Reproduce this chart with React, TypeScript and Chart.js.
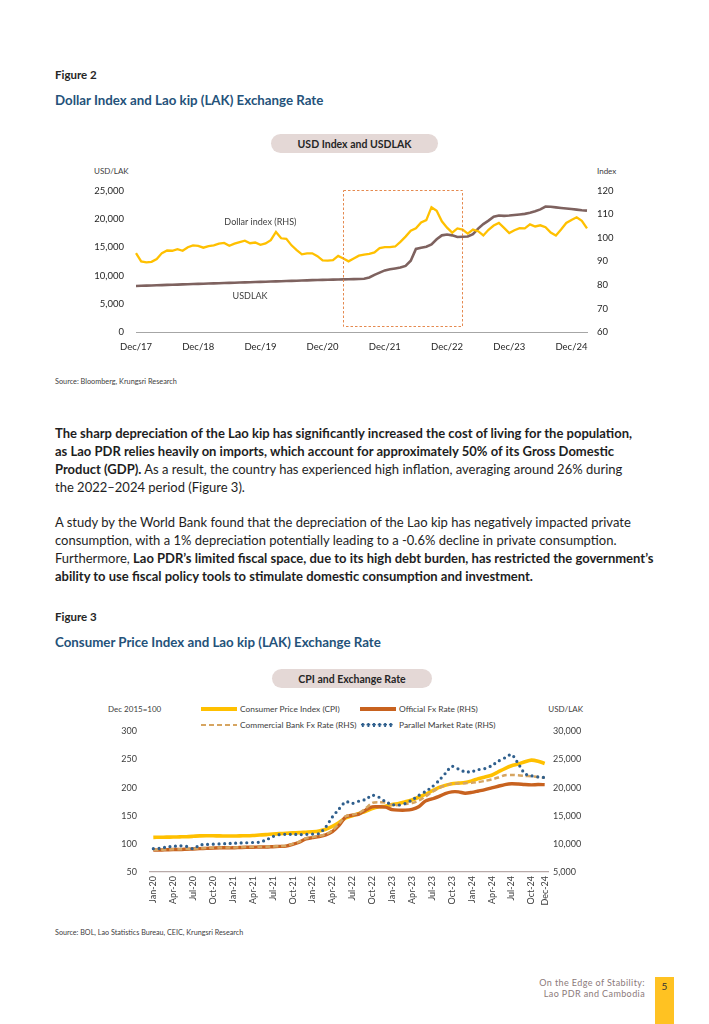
import React, { useEffect, useRef } from "react";
import { Chart, registerables } from "chart.js";

Chart.register(...registerables);

const FONT = "Lato, 'Open Sans', sans-serif";
const MON = ["Jan", "Feb", "Mar", "Apr", "May", "Jun", "Jul", "Aug", "Sep", "Oct", "Nov", "Dec"];

// ---------- Figure 2 data (monthly, Dec 2017 – Mar 2025) ----------
const fig2Months: string[] = [];
for (let i = 0; i < 88; i++) {
  const m = (11 + i) % 12;
  const y = 2017 + Math.floor((11 + i) / 12);
  fig2Months.push(`${MON[m]}/${String(y).slice(2)}`);
}
const dollarIndex = [
  93.5,
  90.0, 89.6, 89.8, 91.0, 93.5, 94.6, 94.5, 95.2, 94.5, 96.0, 96.8, 96.6,
  95.8, 96.5, 96.8, 97.5, 97.8, 96.6, 97.5, 98.2, 98.8, 97.7, 98.0, 97.0,
  97.6, 99.0, 102.5, 99.8, 99.6, 96.8, 94.8, 93.0, 93.4, 93.4, 92.2, 90.4,
  90.3, 90.5, 92.3, 91.2, 90.0, 91.2, 92.4, 92.9, 93.2, 93.8, 95.6, 96.0,
  96.0, 96.3, 98.3, 100.5, 103.0, 104.0, 106.5, 107.5, 113.0, 111.5, 107.0, 104.3,
  102.2, 104.0, 103.5, 101.8, 103.5, 102.8, 101.0, 103.4, 105.2, 106.3, 104.2, 102.0,
  103.2, 104.1, 104.0, 105.7, 104.8, 105.3, 104.5, 102.2, 101.0, 103.5, 106.3, 107.6,
  108.7, 107.2, 104.0,
];
const usdLak = [
  8150,
  8180, 8210, 8240, 8270, 8300, 8330, 8360, 8390, 8420, 8450, 8480, 8510,
  8540, 8570, 8600, 8630, 8660, 8690, 8720, 8750, 8780, 8810, 8840, 8870,
  8900, 8930, 8960, 8990, 9020, 9050, 9080, 9110, 9140, 9170, 9200, 9230,
  9250, 9270, 9290, 9310, 9330, 9350, 9370, 9420, 9650, 10100, 10500, 10900,
  11100, 11250, 11400, 11700, 12600, 14700, 14900, 15100, 15500, 16400, 17100, 17250,
  17100, 16800, 16850, 16900, 17300, 18300, 19100, 19700, 20400, 20600, 20550, 20600,
  20700, 20800, 20900, 21100, 21350, 21700, 22200, 22150, 22050, 21950, 21850, 21750,
  21650, 21550, 21480,
];
const fig2LeftTicks = [0, 25000, 5000];
const fig2RightTicks = [60, 120, 10];
const fig2Box = { from: "Apr/21", to: "Mar/23", top: 25200, bottom: 1200 };
const fig2Labels = [
  { text: "Dollar index (RHS)", at: "Dec/19", value: 106.5, axis: "y1" },
  { text: "USDLAK", at: "Oct/19", value: 6300, axis: "y" },
];

// ---------- Figure 3 data (monthly, Jan 2020 – Dec 2024) ----------
const fig3Months: string[] = [];
for (let i = 0; i < 60; i++) {
  fig3Months.push(`${MON[i % 12]}-${20 + Math.floor(i / 12)}`);
}
const cpi = [
  111.5, 111.8, 112.0, 112.2, 112.5, 112.8, 113.5, 114.3, 114.5, 114.4, 114.2, 114.0,
  114.0, 114.2, 114.5, 115.0, 115.8, 116.5, 117.5, 118.3, 118.8, 119.5, 120.0, 120.8,
  121.5, 123.0, 126.0, 131.0, 138.0, 146.0, 150.0, 154.0, 158.0, 163.0, 166.0, 167.0,
  170.0, 172.0, 175.0, 178.0, 183.0, 188.0, 194.0, 200.0, 204.0, 207.0, 208.0, 209.0,
  212.0, 216.0, 219.0, 222.0, 228.0, 234.0, 239.0, 242.0, 246.0, 249.0, 247.0, 243.0,
];
const officialFx = [
  8900, 8900, 8950, 9000, 9000, 9050, 9100, 9150, 9200, 9250, 9300, 9300,
  9300, 9350, 9400, 9400, 9450, 9450, 9500, 9550, 9600, 9900, 10300, 10900,
  11100, 11300, 11600, 12200, 13300, 14800, 15100, 15300, 16000, 16580, 16600, 16550,
  16100, 16000, 16000, 16150, 16600, 17600, 18000, 18400, 18950, 19250, 19250, 19000,
  19150, 19400, 19650, 19950, 20250, 20550, 20700, 20650, 20550, 20500, 20550, 20530,
];
const commercialFx = [
  8950, 8950, 9000, 9050, 9050, 9100, 9150, 9200, 9250, 9300, 9350, 9350,
  9350, 9400, 9450, 9450, 9500, 9500, 9550, 9600, 9650, 10000, 10400, 11000,
  11200, 11400, 11700, 12400, 13600, 14900, 15200, 15500, 16300, 17300, 17400, 17350,
  16900, 16900, 17100, 17250, 17700, 18400, 19200, 19900, 20400, 20700, 20750, 20800,
  20850, 21000, 21200, 21450, 21800, 22200, 22250, 22200, 22100, 22000, 21900, 21750,
];
const parallelFx = [
  9150, 9200, 9450, 9550, 9650, 9550, 9150, 9800, 9900, 9950, 10000, 10050,
  10100, 10150, 10200, 10250, 10300, 10700, 11300, 11650, 11700, 11700, 11650, 11700,
  11750, 11850, 13000, 14800, 16200, 17500, 17200, 17600, 17900, 18650, 18300, 17500,
  17000, 16900, 17200, 17800, 18600, 19300, 20100, 21200, 22500, 23800, 23300, 22800,
  22850, 23200, 23400, 23900, 24700, 25300, 25900, 24300, 22500, 22100, 21900, 21800,
];
const fig3LeftTicks = [50, 300, 50];
const fig3RightTicks = [5000, 30000, 5000];

const fmt = (v: number) => Number(v).toLocaleString("en-US");

function Fig2Chart() {
  const ref = useRef<HTMLCanvasElement>(null);
  useEffect(() => {
    const extras = {
      id: "fig2extras",
      afterDatasetsDraw(chart: any) {
        const { ctx, scales } = chart;
        const x = scales.x, y = scales.y;
        const x0 = x.getPixelForValue(fig2Months.indexOf(fig2Box.from));
        const x1 = x.getPixelForValue(fig2Months.indexOf(fig2Box.to));
        const y0 = y.getPixelForValue(fig2Box.top);
        const y1 = y.getPixelForValue(fig2Box.bottom);
        ctx.save();
        ctx.strokeStyle = "#E58A50";
        ctx.lineWidth = 1;
        ctx.setLineDash([2.5, 2]);
        ctx.strokeRect(Math.round(x0) + 0.5, Math.round(y0) + 0.5, Math.round(x1 - x0), Math.round(y1 - y0));
        ctx.setLineDash([]);
        ctx.fillStyle = "#404040";
        ctx.font = `9px ${FONT}`;
        ctx.textAlign = "center";
        ctx.textBaseline = "middle";
        for (const l of fig2Labels) {
          const px = x.getPixelForValue(fig2Months.indexOf(l.at));
          const py = scales[l.axis].getPixelForValue(l.value);
          ctx.fillText(l.text, px, py);
        }
        ctx.restore();
      },
    };
    const chart = new Chart(ref.current!, {
      type: "line",
      data: {
        labels: fig2Months,
        datasets: [
          {
            label: "Dollar index (RHS)",
            data: dollarIndex,
            yAxisID: "y1",
            borderColor: "#FFC000",
            borderWidth: 2.3,
            pointRadius: 0,
            tension: 0,
            order: 1,
          },
          {
            label: "USDLAK",
            data: usdLak,
            yAxisID: "y",
            borderColor: "#7E625F",
            borderWidth: 2.6,
            pointRadius: 0,
            tension: 0,
            order: 2,
          },
        ],
      },
      options: {
        animation: false,
        responsive: false,
        devicePixelRatio: 1,
        layout: { padding: { top: 10, left: 0, right: 0, bottom: 0 } },
        plugins: { legend: { display: false }, tooltip: { enabled: false } },
        scales: {
          x: {
            offset: false,
            grid: { display: false, drawTicks: false },
            border: { display: true, color: "#A6A6A6", width: 1 },
            ticks: {
              autoSkip: false,
              maxRotation: 0,
              minRotation: 0,
              padding: 9,
              color: "#262626",
              font: { family: FONT, size: 9.5 },
              callback: (_v: any, i: number) => (fig2Months[i].startsWith("Dec") ? fig2Months[i] : ""),
            },
            afterFit: (s: any) => { s.height = 28; },
          },
          y: {
            position: "left",
            min: fig2LeftTicks[0],
            max: fig2LeftTicks[1],
            grid: { display: false, drawTicks: false },
            border: { display: false },
            ticks: { stepSize: fig2LeftTicks[2], padding: 12, color: "#262626", font: { family: FONT, size: 9.5 }, callback: (v: any) => fmt(v) },
            afterFit: (s: any) => { s.width = 51; },
          },
          y1: {
            position: "right",
            min: fig2RightTicks[0],
            max: fig2RightTicks[1],
            grid: { display: false, drawTicks: false },
            border: { display: false },
            ticks: { stepSize: fig2RightTicks[2], padding: 10, color: "#262626", font: { family: FONT, size: 9.5 } },
            afterFit: (s: any) => { s.width = 38; },
          },
        },
      },
      plugins: [extras],
    } as any);
    return () => chart.destroy();
  }, []);
  return (
    <canvas
      ref={ref}
      width={540}
      height={187}
      style={{ position: "absolute", left: 85, top: 173, width: 540, height: 187 }}
    />
  );
}

function Fig3Chart() {
  const ref = useRef<HTMLCanvasElement>(null);
  useEffect(() => {
    const chart = new Chart(ref.current!, {
      type: "line",
      data: {
        labels: fig3Months,
        datasets: [
          {
            label: "Parallel Market Rate (RHS)",
            data: parallelFx,
            yAxisID: "y1",
            borderColor: "#2F5F8D",
            borderWidth: 3.2,
            borderDash: [0, 5.6],
            borderCapStyle: "round",
            pointRadius: 0,
            tension: 0.25,
            order: 1,
          },
          {
            label: "Commercial Bank Fx Rate (RHS)",
            data: commercialFx,
            yAxisID: "y1",
            borderColor: "#D6A561",
            borderWidth: 2.5,
            borderDash: [5, 3],
            pointRadius: 0,
            tension: 0.25,
            order: 2,
          },
          {
            label: "Official Fx Rate (RHS)",
            data: officialFx,
            yAxisID: "y1",
            borderColor: "#C8621F",
            borderWidth: 3.4,
            pointRadius: 0,
            tension: 0.25,
            order: 3,
          },
          {
            label: "Consumer Price Index (CPI)",
            data: cpi,
            yAxisID: "y",
            borderColor: "#FFC000",
            borderWidth: 3.6,
            pointRadius: 0,
            tension: 0.25,
            order: 4,
          },
        ],
      },
      options: {
        animation: false,
        responsive: false,
        devicePixelRatio: 1,
        layout: { padding: { top: 9, left: 0, right: 0, bottom: 0 } },
        plugins: { legend: { display: false }, tooltip: { enabled: false } },
        scales: {
          x: {
            offset: true,
            grid: { display: false, drawTicks: false },
            border: { display: true, color: "#B7A9A8", width: 1.2 },
            ticks: {
              autoSkip: false,
              maxRotation: 90,
              minRotation: 90,
              padding: 4,
              color: "#404040",
              font: { family: FONT, size: 9 },
              callback: (_v: any, i: number) =>
                i % 3 === 0 || i === fig3Months.length - 1 ? fig3Months[i] : "",
            },
            afterFit: (s: any) => { s.height = 50; },
          },
          y: {
            position: "left",
            min: fig3LeftTicks[0],
            max: fig3LeftTicks[1],
            grid: { display: false, drawTicks: false },
            border: { display: false },
            ticks: { stepSize: fig3LeftTicks[2], padding: 13, color: "#404040", font: { family: FONT, size: 9 } },
            afterFit: (s: any) => { s.width = 65; },
          },
          y1: {
            position: "right",
            min: fig3RightTicks[0],
            max: fig3RightTicks[1],
            grid: { display: false, drawTicks: false },
            border: { display: false },
            ticks: { stepSize: fig3RightTicks[2], padding: 5, color: "#404040", font: { family: FONT, size: 9 }, callback: (v: any) => fmt(v) },
            afterFit: (s: any) => { s.width = 77; },
          },
        },
      },
    } as any);
    return () => chart.destroy();
  }, []);
  return (
    <canvas
      ref={ref}
      width={540}
      height={209}
      style={{ position: "absolute", left: 85, top: 713, width: 540, height: 209 }}
    />
  );
}

type TP = {
  x: number; y: number; size: number; bold?: boolean; color?: string;
  align?: "left" | "right" | "center"; ls?: number; children: React.ReactNode; font?: string;
};
function Txt({ x, y, size, bold, color = "#262626", align = "left", ls = 0, children, font = FONT }: TP) {
  const lh = size * 1.3;
  const style: React.CSSProperties = {
    position: "absolute",
    top: y - lh / 2,
    lineHeight: `${lh}px`,
    fontSize: size,
    fontFamily: font,
    fontWeight: bold ? 700 : 400,
    color,
    whiteSpace: "nowrap",
    letterSpacing: ls,
  };
  if (align === "left") style.left = x;
  else if (align === "right") style.right = 709 - x;
  else { style.left = x; style.transform = "translateX(-50%)"; }
  return <div style={style}>{children}</div>;
}

function Pill({ x, y, w, h, text }: { x: number; y: number; w: number; h: number; text: string }) {
  return (
    <div
      style={{
        position: "absolute", left: x, top: y, width: w, height: h, borderRadius: h / 2,
        background: "#E4D8D6", display: "flex", alignItems: "center", justifyContent: "center",
        fontFamily: FONT, fontWeight: 700, fontSize: 10.5, color: "#262626",
      }}
    >
      {text}
    </div>
  );
}

function LegendLine({ x, y, w, kind, color }: { x: number; y: number; w: number; kind: string; color: string }) {
  const base: React.CSSProperties = { position: "absolute", left: x, width: w };
  if (kind === "solid") return <div style={{ ...base, top: y - 1.75, height: 3.5, background: color }} />;
  if (kind === "dash")
    return (
      <div style={{ ...base, top: y - 1.25, height: 2.5, background: `repeating-linear-gradient(to right, ${color} 0 5px, transparent 5px 8px)` }} />
    );
  return (
    <div
      style={{
        ...base, top: y - 1.6, height: 3.2,
        background: `radial-gradient(circle, ${color} 1.5px, transparent 1.7px)`,
        backgroundSize: "5.6px 3.2px",
      }}
    />
  );
}

const BODY = 13;
const BLS = 0;

export default function App() {
  useEffect(() => {
    document.body.style.margin = "0";
  }, []);
  const P = ({ y, children }: { y: number; children: React.ReactNode }) => (
    <Txt x={55} y={y} size={BODY} ls={BLS} color="#1E1E1E">{children}</Txt>
  );
  return (
    <div style={{ position: "absolute", left: 0, top: 0, width: 709, height: 1024, background: "#fff", overflow: "hidden" }}>
      <Txt x={55} y={75} size={11.5} bold>Figure 2</Txt>
      <Txt x={55} y={101} size={13.3} bold color="#24527A">Dollar Index and Lao kip (LAK) Exchange Rate</Txt>

      <Pill x={271} y={134} w={167} h={19} text="USD Index and USDLAK" />
      <Txt x={94} y={171} size={8} color="#404040">USD/LAK</Txt>
      <Txt x={597} y={171} size={8} color="#404040">Index</Txt>
      <Fig2Chart />

      <Txt x={55} y={382} size={7.3} color="#404040">Source: Bloomberg, Krungsri Research</Txt>

      <P y={433}><b>The sharp depreciation of the Lao kip has significantly increased the cost of living for the population,</b></P>
      <P y={451}><b>as Lao PDR relies heavily on imports, which account for approximately 50% of its Gross Domestic</b></P>
      <P y={469}><b>Product (GDP).</b> As a result, the country has experienced high inflation, averaging around 26% during</P>
      <P y={487}>the 2022–2024 period (Figure 3).</P>

      <P y={522}>A study by the World Bank found that the depreciation of the Lao kip has negatively impacted private</P>
      <P y={540}>consumption, with a 1% depreciation potentially leading to a -0.6% decline in private consumption.</P>
      <P y={558}>Furthermore, <b>Lao PDR’s limited fiscal space, due to its high debt burden, has restricted the government’s</b></P>
      <P y={576}><b>ability to use fiscal policy tools to stimulate domestic consumption and investment.</b></P>

      <Txt x={55} y={617} size={11.5} bold>Figure 3</Txt>
      <Txt x={55} y={643} size={13.3} bold color="#24527A">Consumer Price Index and Lao kip (LAK) Exchange Rate</Txt>

      <Pill x={272} y={669} w={160} h={19} text="CPI and Exchange Rate" />
      <Txt x={108} y={709} size={8} color="#404040">Dec 2015=100</Txt>
      <Txt x={583} y={709} size={8} color="#404040" align="right">USD/LAK</Txt>

      <LegendLine x={201} y={709} w={36} kind="solid" color="#FFC000" />
      <Txt x={240} y={709} size={8.4} color="#404040">Consumer Price Index (CPI)</Txt>
      <LegendLine x={360} y={709} w={36} kind="solid" color="#C8621F" />
      <Txt x={399} y={709} size={8.4} color="#404040">Official Fx Rate (RHS)</Txt>
      <LegendLine x={201} y={725} w={36} kind="dash" color="#D6A561" />
      <Txt x={240} y={725} size={8.4} color="#404040">Commercial Bank Fx Rate (RHS)</Txt>
      <LegendLine x={360} y={725} w={34} kind="dot" color="#2F5F8D" />
      <Txt x={399} y={725} size={8.4} color="#404040">Parallel Market Rate (RHS)</Txt>
      <Fig3Chart />

      <Txt x={55} y={933} size={7.2} color="#404040">Source: BOL, Lao Statistics Bureau, CEIC, Krungsri Research</Txt>

      <Txt x={645} y={983} size={9} color="#8C7A7A" align="right" ls={0.4}>On the Edge of Stability:</Txt>
      <Txt x={645} y={994} size={9} color="#8C7A7A" align="right" ls={0.4}>Lao PDR and Cambodia</Txt>
      <div style={{ position: "absolute", left: 655, top: 977, width: 19, height: 47, background: "#FFC222" }} />
      <Txt x={664.5} y={986} size={10} color="#333" align="center">5</Txt>
    </div>
  );
}
